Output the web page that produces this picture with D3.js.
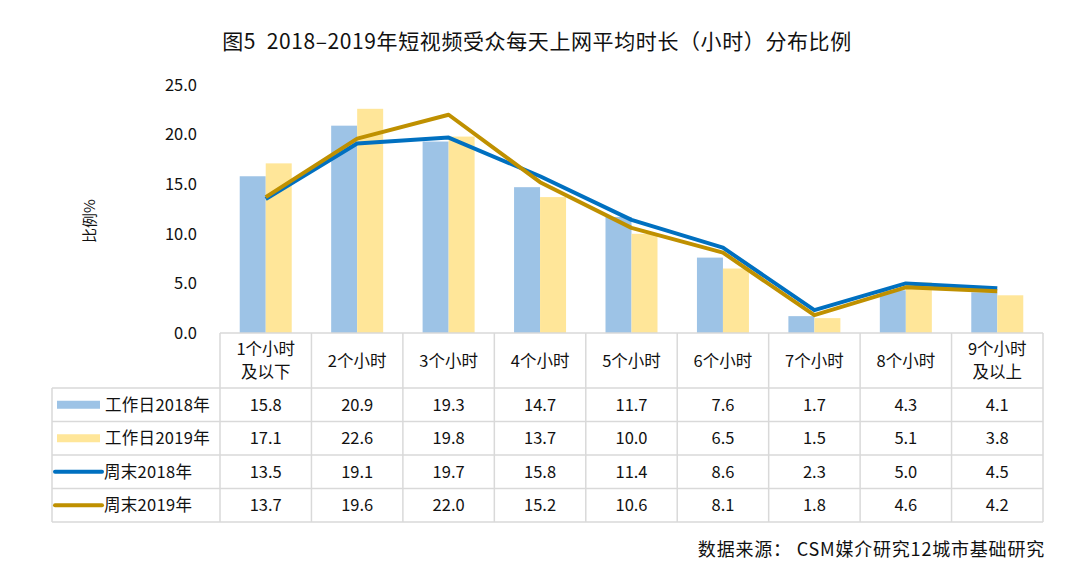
<!DOCTYPE html>
<html lang="zh">
<head>
  <meta charset="UTF-8">
  <title>短视频受众每天上网平均时长</title>
  <script src="https://d3js.org/d3.v7.min.js"></script>
  <style>
    body { margin: 0; background: #fff; }
    text { font-family: "Noto Sans CJK SC", "Noto Sans", sans-serif; fill: #111; }
  </style>
</head>
<body>
  <div id="chart"></div>
  <script>
    const categories = ["1个小时\n及以下", "2个小时", "3个小时", "4个小时", "5个小时", "6个小时", "7个小时", "8个小时", "9个小时\n及以上"];
    const work2018 = [15.8, 20.9, 19.3, 14.7, 11.7, 7.6, 1.7, 4.3, 4.1];
    const work2019 = [17.1, 22.6, 19.8, 13.7, 10.0, 6.5, 1.5, 5.1, 3.8];
    const weekend2018 = [13.5, 19.1, 19.7, 15.8, 11.4, 8.6, 2.3, 5.0, 4.5];
    const weekend2019 = [13.7, 19.6, 22.0, 15.2, 10.6, 8.1, 1.8, 4.6, 4.2];
    const yTicks = [0, 5, 10, 15, 20, 25];

    const series = [
      { name: "工作日2018年", values: work2018, type: "bar", color: "#9DC3E6" },
      { name: "工作日2019年", values: work2019, type: "bar", color: "#FFE699" },
      { name: "周末2018年", values: weekend2018, type: "line", color: "#0070C0" },
      { name: "周末2019年", values: weekend2019, type: "line", color: "#BF9000" }
    ];

    const width = 1080, height = 579;
    const plotL = 220, plotR = 1043, plotT = 85, plotB = 333;
    const legendLeft = 52;
    const headerH = 55, rowH = 33.5;
    const fs = "16.5px";

    const svg = d3.select("#chart").append("svg")
      .attr("width", width).attr("height", height);

    svg.append("text")
      .attr("x", 537).attr("y", 49)
      .attr("text-anchor", "middle")
      .style("font-size", "21px")
      .style("letter-spacing", "0.6px")
      .style("white-space", "pre")
      .text("图5  2018–2019年短视频受众每天上网平均时长（小时）分布比例");

    const x = d3.scaleBand().domain(categories).range([plotL, plotR]);
    const y = d3.scaleLinear().domain([0, 25]).range([plotB, plotT]);
    const barW = 26;

    // y axis labels
    const yAxis = svg.append("g")
      .attr("transform", `translate(${plotL - 8},0)`)
      .call(d3.axisLeft(y).tickValues(yTicks).tickFormat(d3.format(".1f")).tickSize(0).tickPadding(15));
    yAxis.select(".domain").remove();
    yAxis.selectAll("text").style("font-size", fs).style("font-family", "Noto Sans CJK SC").attr("fill", "#111");

    svg.append("text")
      .attr("transform", `translate(95,${(plotT + plotB) / 2 + 12}) rotate(-90)`)
      .attr("text-anchor", "middle")
      .style("font-size", "15px")
      .text("比例%");

    // bars
    const bars = series.filter(s => s.type === "bar");
    bars.forEach((s, si) => {
      svg.append("g").selectAll("rect")
        .data(s.values)
        .join("rect")
        .attr("x", (d, i) => x(categories[i]) + x.bandwidth() / 2 - barW + si * barW)
        .attr("y", d => y(d))
        .attr("width", barW)
        .attr("height", d => y(0) - y(d))
        .attr("fill", s.color);
    });

    // lines
    const line = d3.line()
      .x((d, i) => x(categories[i]) + x.bandwidth() / 2)
      .y(d => y(d));
    series.filter(s => s.type === "line").forEach(s => {
      svg.append("path")
        .datum(s.values)
        .attr("d", line)
        .attr("fill", "none")
        .attr("stroke", s.color)
        .attr("stroke-width", 4)
        .attr("stroke-linejoin", "round");
    });

    // data table
    const grid = svg.append("g")
      .attr("stroke", "#D9D9D9")
      .attr("stroke-width", 1.5);
    const tableBottom = plotB + headerH + rowH * series.length;
    grid.append("line").attr("x1", plotL).attr("x2", plotR).attr("y1", plotB).attr("y2", plotB);
    for (let r = 0; r <= series.length; r++) {
      const yy = plotB + headerH + r * rowH;
      grid.append("line").attr("x1", legendLeft).attr("x2", plotR).attr("y1", yy).attr("y2", yy);
    }
    grid.append("line").attr("x1", legendLeft).attr("x2", legendLeft)
      .attr("y1", plotB + headerH).attr("y2", tableBottom);
    categories.forEach(c => {
      grid.append("line").attr("x1", x(c)).attr("x2", x(c)).attr("y1", plotB).attr("y2", tableBottom);
    });
    grid.append("line").attr("x1", plotR).attr("x2", plotR).attr("y1", plotB).attr("y2", tableBottom);

    // header labels
    categories.forEach(c => {
      const lines = c.split("\n");
      const cx = x(c) + x.bandwidth() / 2;
      const t = svg.append("text")
        .attr("text-anchor", "middle")
        .style("font-size", fs);
      lines.forEach((l, li) => {
        t.append("tspan")
          .attr("x", cx)
          .attr("y", plotB + headerH / 2 + 6 + (li - (lines.length - 1) / 2) * 23)
          .text(l);
      });
    });

    // rows
    series.forEach((s, r) => {
      const cy = plotB + headerH + r * rowH + rowH / 2;
      if (s.type === "bar") {
        svg.append("rect")
          .attr("x", 57).attr("y", cy - 4).attr("width", 43).attr("height", 8)
          .attr("fill", s.color);
      } else {
        svg.append("line")
          .attr("x1", 55).attr("x2", 102).attr("y1", cy).attr("y2", cy)
          .attr("stroke", s.color).attr("stroke-width", 4).attr("stroke-linecap", "round");
      }
      svg.append("text").attr("x", s.type === "bar" ? 105 : 104).attr("y", cy + 6)
        .style("font-size", fs).style("letter-spacing", "0.3px").text(s.name);
      s.values.forEach((v, i) => {
        svg.append("text")
          .attr("x", x(categories[i]) + x.bandwidth() / 2)
          .attr("y", cy + 6)
          .attr("text-anchor", "middle")
          .style("font-size", fs)
          .text(v.toFixed(1));
      });
    });

    svg.append("text")
      .attr("x", 1045).attr("y", 556)
      .attr("text-anchor", "end")
      .style("font-size", "18px")
      .style("letter-spacing", "0.8px")
      .style("white-space", "pre")
      .text("数据来源： CSM媒介研究12城市基础研究");
  </script>
</body>
</html>
